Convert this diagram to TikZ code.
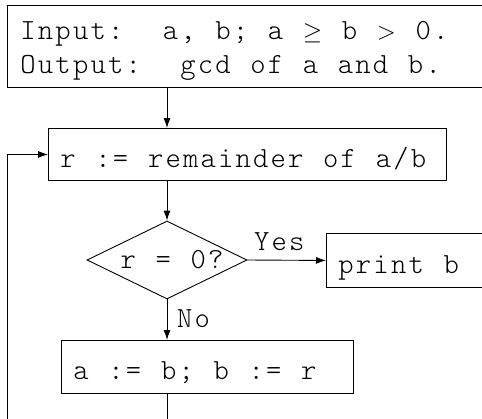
\documentclass[tikz,border=0pt]{standalone}
\usepackage{fontspec}
\newfontfamily\mono{lmmonolt10-regular.otf}[LetterSpace=7.5]
\newcommand\monosize{\mono\fontsize{29.2}{34}\selectfont\frenchspacing
  \fontdimen2\font=19.7pt \fontdimen3\font=0pt \fontdimen4\font=0pt }
\newcommand\lline[2]{\hbox to #1{#2\hfil}}
\usetikzlibrary{arrows.meta,shapes.geometric}
\begin{document}
\begin{tikzpicture}[x=1pt,y=-1pt,
  every node/.style={font=\monosize, inner sep=0pt},
  box/.style={draw, line width=0.9pt, rectangle, anchor=north west, inner xsep=12pt, inner ysep=0pt},
  arr/.style={-{Latex[length=10pt,width=7pt]}, line width=0.9pt},
  lbl/.style={anchor=base west}]
\useasboundingbox (0,0) rectangle (482,418);
\clip (0,0) rectangle (482,418);
\node[box, inner xsep=13pt, text height=34pt, text depth=48pt] (io) at (7,5)
  {\vtop{\baselineskip=34pt\lline{480pt}{Input:\ \ a, b; a $\geq$ b $>$ 0.}\lline{480pt}{Output:\ \ gcd of a and b.}}};
\node[box, text height=39pt, text depth=13pt] (r) at (48,128) {\lline{374pt}{r := remainder of a/b}};
\node[draw, diamond, aspect=2.05, minimum width=160pt, minimum height=78pt, inner sep=0pt,
  text height=20pt, text depth=4pt, line width=0.9pt] (d) at (167,260) {\kern5pt r = 0?\kern-5pt};
\node[box, text height=40pt, text depth=14pt] (p) at (326,233) {\lline{200pt}{print b}};
\node[box, text height=39pt, text depth=14pt] (a) at (61,340) {\lline{268pt}{a := b; b := r}};
\node[lbl] (yes) at (254,250) {Yes};
\node[lbl] (no) at (177,327) {No};
\coordinate (c1) at (167,450);
\coordinate (c2) at (7,450);
\draw[arr] (io.south -| d) -- (r.north -| d);
\draw[arr] (r.south -| d) -- (d.north);
\draw[arr] (d.east) -- (p.west);
\draw[arr] (d.south) -- (a.north -| d);
\draw[arr] (a.south -| d) -- (c1) -- (c2) |- (r.west);
\end{tikzpicture}
\end{document}
